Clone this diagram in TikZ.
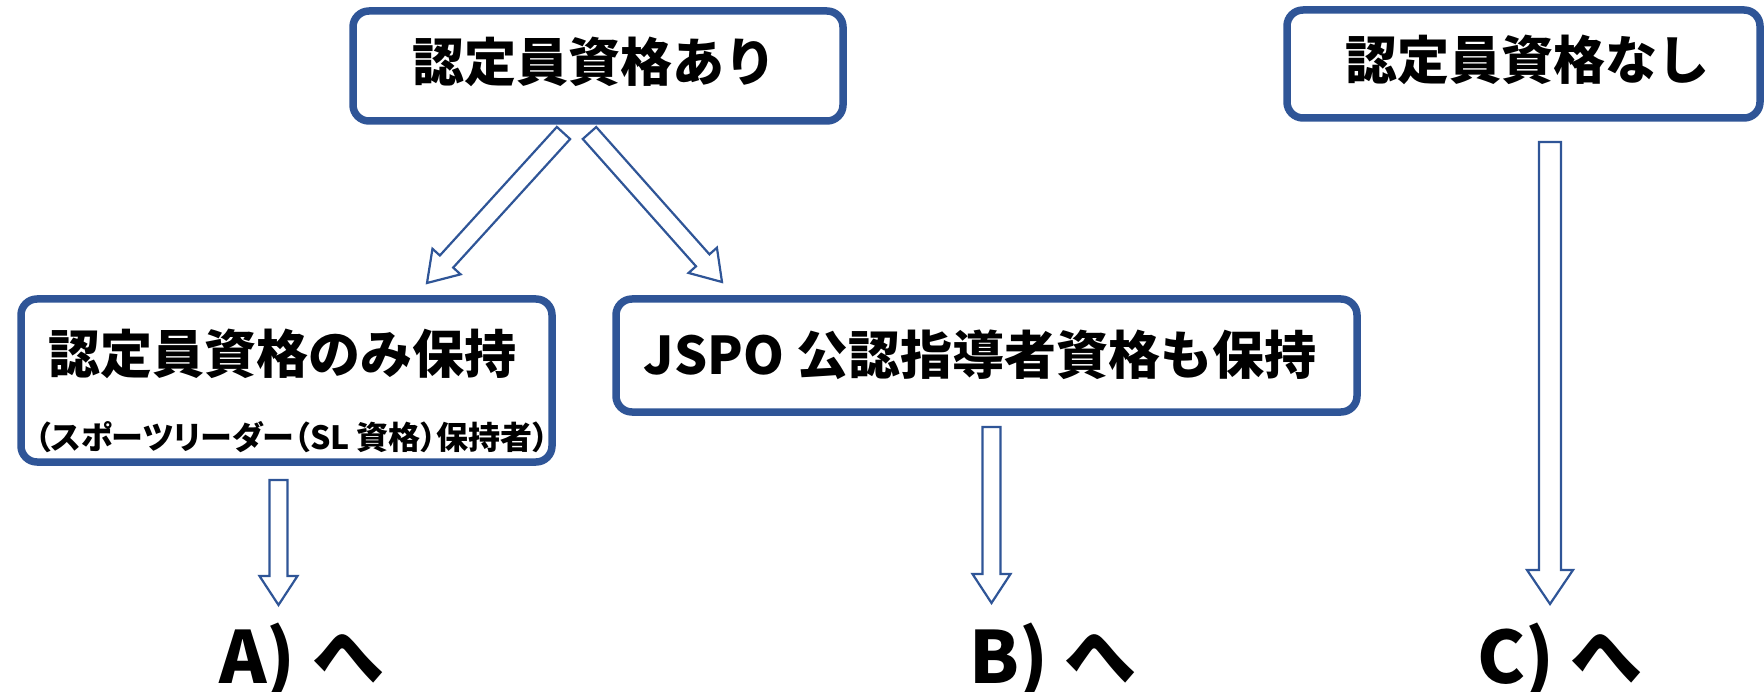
\documentclass[tikz,border=0pt]{standalone}
\usepackage{fontspec}
\usetikzlibrary{positioning,calc}
\newfontfamily\jpfont{Noto Sans CJK JP}
\newfontfamily\jpprop{Noto Sans CJK JP}[RawFeature=+palt]
\definecolor{boxblue}{HTML}{2F5597}

% hollow block arrow: start, tip, shaft half width, head half width, head length
\newcommand{\hollowarrow}[5]{%
  \coordinate (hb) at ($(#2)!#5!(#1)$);
  \draw[blockarrow] ($(#1)!#3!90:(#2)$) -- ($(hb)!#3!90:(#2)$) -- ($(hb)!#4!90:(#2)$)
    -- (#2) -- ($(hb)!#4!-90:(#2)$) -- ($(hb)!#3!-90:(#2)$) -- ($(#1)!#3!-90:(#2)$) -- cycle;}

\tikzset{
  box/.style={draw=boxblue, line width=7.5pt, rounded corners=16pt, fill=white, inner sep=0pt},
  boxtext/.style={font=\jpfont\bfseries\fontsize{52}{52}\selectfont, inner sep=0pt},
  blockarrow/.style={draw=boxblue, line width=2.2pt, fill=white, line join=miter},
  goal/.style={anchor=base west, font=\jpfont\bfseries\fontsize{72}{72}\selectfont, inner sep=0pt},
}

\begin{document}
\begin{tikzpicture}[x=1pt,y=-1pt]
   \useasboundingbox (0,0) rectangle (1764,692);
   % boxes
   \node[box, minimum width=490pt, minimum height=110pt] (with) at (598,66) {};
   \node[boxtext] (withtxt) at (594,62) {認定員資格あり};
   \node[box, minimum width=473pt, minimum height=108pt] (without) at (1523.5,64) {};
   \node[boxtext] (withouttxt) at (1527,60) {認定員資格なし};
   \node[box, minimum width=531pt, minimum height=163pt] (only) at (286.5,380.5) {};
   \node[boxtext] (onlytxt) at (282,354) {認定員資格のみ保持};
   \node[inner sep=0pt, font=\jpprop\bfseries\fontsize{32}{32}\selectfont] (onlysub) at (292,437) {（スポーツリーダー（SL 資格）保持者）};
   \node[box, minimum width=741pt, minimum height=113pt] (also) at (986.5,355.5) {};
   \node[boxtext] (alsotxt) at (980,355) {JSPO 公認指導者資格も保持};
   % arrow ends
   \coordinate (l0) at (563.5,133); \coordinate (l1) at (427,283);
   \coordinate (r0) at (589.5,133); \coordinate (r1) at (722,282);
   \coordinate (a0) at (278.5,480); \coordinate (a1) at (278.5,605);
   \coordinate (b0) at (991.5,427); \coordinate (b1) at (991.5,603);
   \coordinate (c0) at (1550,142);  \coordinate (c1) at (1550,604);
   \hollowarrow{l0}{l1}{9pt}{19pt}{29pt}
   \hollowarrow{r0}{r1}{9pt}{19pt}{29pt}
   \hollowarrow{a0}{a1}{9pt}{19pt}{29pt}
   \hollowarrow{b0}{b1}{9pt}{19pt}{29pt}
   \hollowarrow{c0}{c1}{11pt}{23pt}{34pt}
   % targets
   \node[goal] (toA) at (219,683) {A) へ};
   \node[goal] (toB) at (969,683) {B) へ};
   \node[goal] (toC) at (1477,683) {C) へ};
\end{tikzpicture}
\end{document}
